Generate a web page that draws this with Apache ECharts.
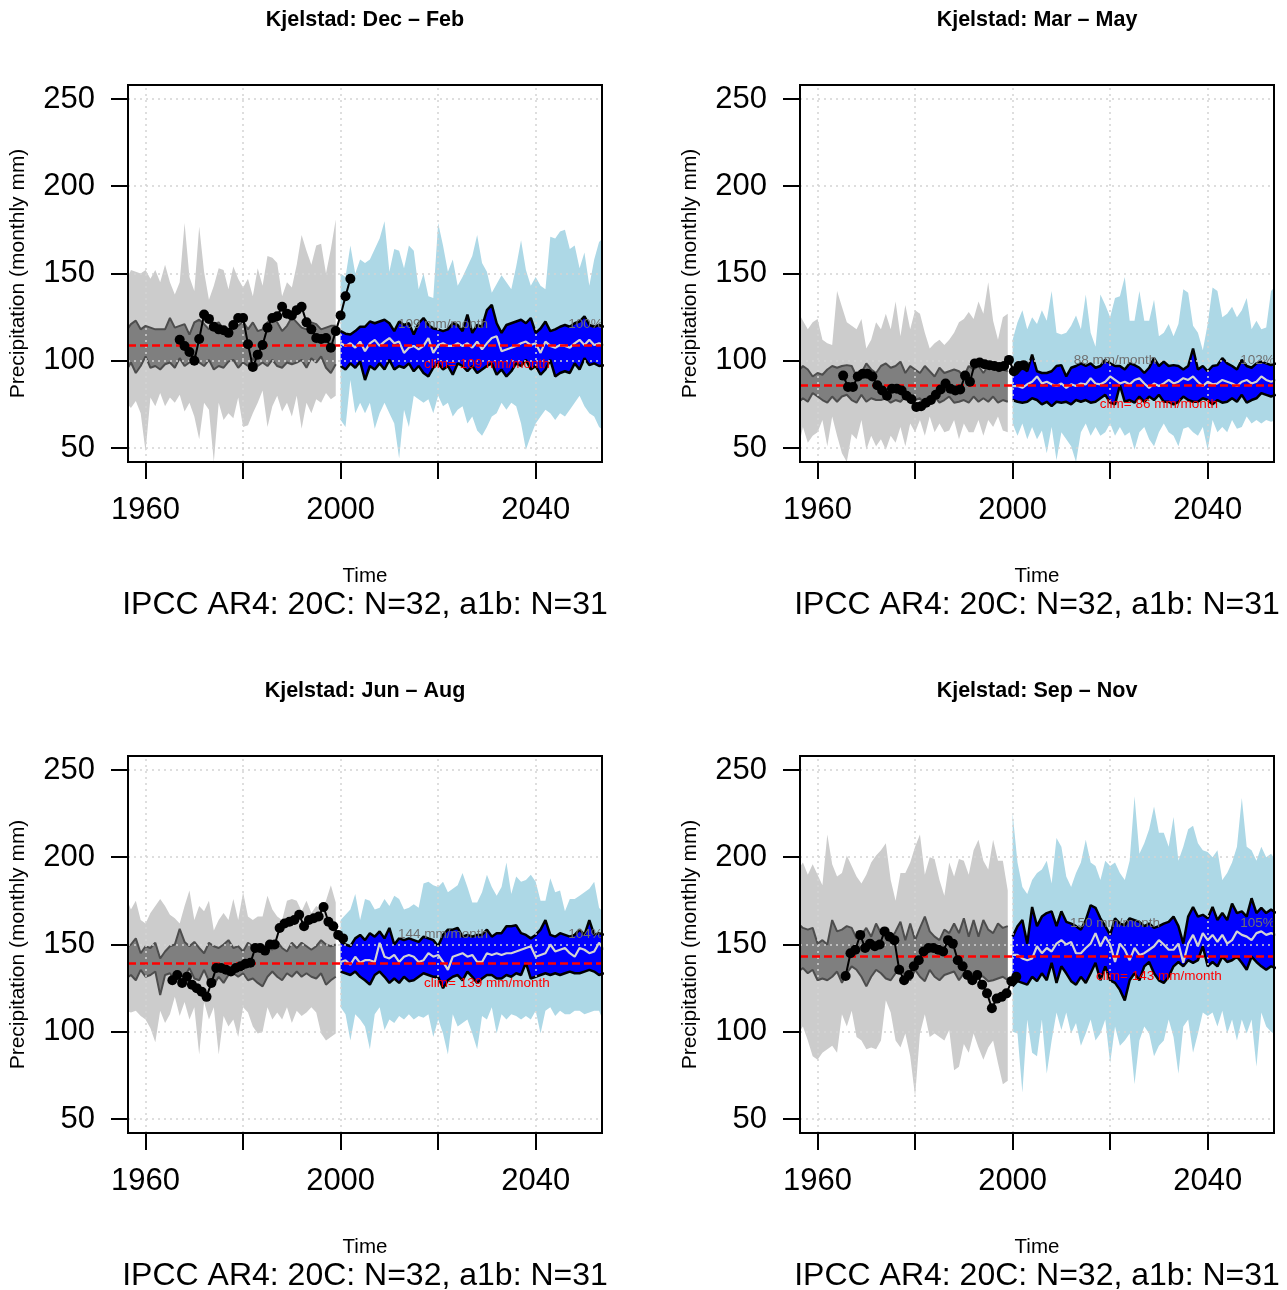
<!DOCTYPE html>
<html><head><meta charset="utf-8">
<script src="https://cdn.jsdelivr.net/npm/echarts/dist/echarts.min.js"></script>
<style>html,body{margin:0;padding:0;background:#fff}#c{width:1287px;height:1290px}</style>
</head><body><div id="c"></div>
<script>
function seq(a, b) { const r = []; for (let y = a; y <= b; y++) r.push(y); return r; }

// ---------- axes ----------
const xTicks = [1960, 1980, 2000, 2020, 2040];
const xLabels = [1960, 2000, 2040];
const yTicks = [50, 100, 150, 200, 250];

// ---------- years ----------
const pastYears = seq(1956, 1999);
const futYears = seq(2000, 2054);

// ---------- Dec - Feb ----------
const djfPastLightHi = [145,152,151,150,152,147,152,145,155,145,138,145,179,148,140,177,151,135,143,153,152,141,154,147,142,147,137,153,143,160,159,156,137,145,142,155,172,163,155,166,167,150,164,181];
const djfPastLightLo = [76,73,77,70,48,79,74,81.5,74,79,76,80.5,71,76,68,55,76,72,42,76,66,70,67,79,62,63,70,76,83,62,74,80,71,76,68,80,61,76,70,78,76,81.5,78,80];
const djfPastDarkHi = [117,121,123,118,120,119,118,118,118,124.5,119,120,121,115,122,123.5,121,118,121,122,118,118,120,120,122.5,118,122,117,118,122,124.5,122,117,120,125,122,119,118,122,121,118,119,120,120];
const djfPastDarkLo = [94,99,93,97,102.5,96,97,95,98,99,96,101.5,97,99,103.5,99,97,100.5,95,97,96,99.5,100.5,96,99,97,101.5,97,99,97,100.5,97,96,99,98,99,100.5,96,101.5,99,102.5,96,93,98];
const djfFutLightHi = [150,148,166,150,158,156,158,164,170,180,151,164,163,153,166,163,141,150,137,136,179,166,151,158,143,148,154,160,172,156,151,139,144,149,145,141,154,169,152,143,148,143,141,171,170,174,175,164,166,153,162,143,158,168,171];
const djfFutLightLo = [66,62,89,70,76,70,76,61,70,76,70,64,44,72,62,80,78,76,78,70,80,74,76,68,72,74,64,68,60,57,62,68,70,76,72,76,74,64,49,57,64,68,72,70,66,70,68,72,76,80,74,70,68,62,60];
const djfFutBlueHi = [117,115.5,115,117,119.5,119.5,122.5,121.5,122.5,123.5,121.5,117,122.5,120.5,121.5,115,121.5,124.5,120.5,118.5,118,117,118,121.5,120.5,117,126.5,116,120.5,119.5,129,132,121.5,116,120.5,121.5,122.5,123.5,121.5,124.5,116,118.5,122.5,117,118,119.5,120.5,119.5,121.5,122.5,125.5,120.5,119.5,120.5,119.5];
const djfFutBlueLo = [97,95,98.5,96,99.5,89,97,95,98.5,95,100.5,95,97,96,98.5,94,97,93,91,96,98.5,95,97,92,98.5,97,94,97,93,95,97,98.5,92,95,91,94,98.5,97,100.5,95,97,92,95,100.5,91,93,94,93,98.5,95,101.5,97.5,98.5,97,97.5];
const djfFutMean = [110,108.5,110,107.5,111,105.5,110,112,108.5,111,113,110,111,104.5,107.5,108.5,106.5,108.5,113,104.5,109,110,108.5,108.5,110,108.5,110,107.5,111,106.5,110,113,114,105.5,106.5,107.5,108.5,110,111,109,110,104.5,111,108.5,107.5,109,108.5,107.5,110,112,109,112,109,110,109];
const djfObsYears = seq(1967, 2002);
const djfObs = [112,108.5,105,100,112.5,126.5,124,119.5,118,117.5,116,120.5,124.5,124.5,109.5,96.5,103.5,109,119,124.5,125.5,131,127,126,129,131,122,118,113,112.5,113,107.5,117,126,137,147];

// ---------- Mar - May ----------
const mamPastLightHi = [128,123,118,122,124,112,110,109,140,131,122,120,118,124,107,112,122,118,127,118,134,114,132,118,129,127,116,107,110,112,109,112,116,122,124,128,124,134,127,145,123,112,125,127];
const mamPastLightLo = [49,62,53,57,59,66,51,68,57,47,42,58,55,66,49,57,51,55,49,57,53,62,51,64,59,66,57,68,59,64,59,60,66,55,64,59,59,66,57,66,62,68,60,59];
const mamPastDarkHi = [94,97,95,91,93,92,95,97,96,97,97.5,97,91,93,98.5,95,93,97,98.5,96,97,99.5,93,97,95,93,97,94,91,96,93,94,95,94,91,97,95,97,93,97,96,94,95,94];
const mamPastDarkLo = [76,78.5,76.5,81.5,79.5,77.5,76,79.5,76.5,79.5,80.5,77.5,76,80.5,76.5,78.5,77.5,77.5,78.5,76,77.5,76.5,79.5,76.5,77.5,78.5,75,76,79.5,76,77.5,79.5,76,76.5,77.5,76,79.5,76.5,78.5,76.5,79.5,76,77.5,76.5];
const mamFutLightHi = [112,122,129,118,125,121,129,123,140,116,115,116,120,126,118,138,116,108,138,132,125,136,137,148,123,123,140,123,123,135,114,116,121,114,121,141,139,120,116,106,121,142,140,125,127,131,125,129,136,118,123,118,119,140,143];
const mamFutLightLo = [64,57,64,55,62,55,60,47,62,43,59,55,51,42,59,64,57,62,57,59,64,57,62,57,59,49,59,62,55,51,59,64,59,57,51,61,62,59,57,62,49,66,59,62,59,66,61,62,68,64,66,64,66,65,66];
const mamFutBlueHi = [92,93,96,94,103.5,94,93,93,94,97,97.5,91,96,97,98.5,97,98.5,96,97,100.5,98.5,97,97,95,98.5,97.5,96,93,96,101.5,97,99.5,97,97.5,97,95,97,107,95,97,94,97,97.5,101.5,98.5,97,95,100.5,97,96,98.5,99.5,98.5,97.5,98.5];
const mamFutBlueLo = [77.5,76.5,76,76.5,78.5,77.5,75,76.5,74,76.5,76,76.5,75,77.5,76.5,77.5,76,76.5,78.5,80.5,76,75,86,76.5,77.5,76,79.5,76.5,79.5,77.5,80.5,76.5,76.5,75,76.5,79.5,77.5,76.5,76.5,78.5,77.5,75,77.5,76,76.5,78.5,76.5,80.5,76,77.5,78.5,81.5,80.5,79.5,80.5];
const mamFutMean = [85.5,85.5,84.5,86.5,88,91,87,88,86.5,85.5,87,84.5,86.5,85.5,87,86.5,90,87,86.5,88,91,89,87,88,86.5,89,90,87,84.5,87,85.5,87,89,87,88,90,89,91,88,85.5,88,86.5,87,89,88,87,85.5,88,89,87,88,91,89,88,89];
const mamObsYears = seq(1965, 2002).map(y => y + 0.25);
const mamObs = [91.5,85,85,91,92.5,92.5,91,86,83,80,84,84,83,80,78,73.5,74,76,77.5,80.5,83.5,87,84,83,83.5,91.5,88,98.5,99,98,97.5,97,96.5,97,100.5,94,97,97.5];

// ---------- Jun - Aug ----------
const jjaPastLightHi = [177,170,175,164,162,168,172,176,172,167,165,162,172,181,164,172,169,175,158,164,168,164,176,164,180,166,164,166,166,178,170,166,164,175,176,175,169,175,168,172,170,175,184,174];
const jjaPastLightLo = [112,111,112,109,107,102,94,112,105,110,120,109,117,107,114,87,117,107,114,87,109,103,107,97,114,111,103,99,100,114,107,111,107,114,105,112,109,111,114,111,99,95,97,99];
const jjaPastDarkHi = [148,150,153.5,145,149,148,151,142,146,149,150,159,151.5,149,151.5,148,145,151,149,148,150,152.5,148,149,146,151,149,148,146,150,147,151.5,148,146,151,148,151,149,147,149,152.5,150,149,150];
const jjaPastDarkLo = [130.5,132.5,129.5,135.5,131.5,132.5,134.5,121,132.5,133.5,129.5,132.5,131.5,136.5,130.5,129.5,135.5,129,127,131.5,128,132.5,133.5,131.5,133.5,129.5,130.5,128,126,131.5,134.5,131.5,129.5,133.5,131.5,134.5,131.5,133.5,131.5,130.5,133.5,127,129.5,131.5];
const jjaFutLightHi = [164,167,170,179,164,176,175,170,171,176,172,178,176,170,171,173,171,185,186,184,183,186,180,182,184,191,183,174,174,180,190,183,178,183,197,179,189,186,187,190,186,175,175,188,180,181,169,176,176,178,180,182,186,171,168];
const jjaFutLightLo = [114,110,95,110,107,103,90,110,114,101,107,105,109,107,110,107,109,108,110,97,107,99,87,110,103,105,107,99,90,109,107,114,99,110,107,110,109,107,109,107,112,99,112,114,109,112,110,110,112,112,110,111,112,112,105];
const jjaFutBlueHi = [151.5,150,149,153.5,155.5,152.5,156.5,154.5,157.5,153.5,159.5,150,153.5,152.5,153.5,152.5,151.5,154.5,153.5,152.5,149,155.5,158.5,158.5,159.5,154.5,155.5,154.5,155.5,155.5,158.5,154.5,156.5,156.5,160.5,160.5,161,156.5,155.5,153.5,155.5,158.5,164,155.5,154.5,156.5,155.5,154.5,155.5,158.5,155.5,164,155.5,156.5,155.5];
const jjaFutBlueLo = [134.5,133.5,132.5,134.5,131.5,129.5,127,132.5,134.5,131.5,128,130.5,128,131.5,129,129.5,131.5,133.5,132.5,131.5,131.5,125,129.5,131.5,132.5,129.5,134.5,131.5,128,130.5,132.5,132.5,130.5,130.5,132.5,131.5,133.5,132.5,139.5,130.5,131.5,132.5,133.5,132.5,133.5,132.5,133.5,134.5,133.5,133.5,134.5,135.5,134.5,132.5,133.5];
const jjaFutMean = [140,141,138.5,143,139.5,141,141,140,151,143,142,144,140,143,144,143,140,141,145,143,144,140,135.5,143,144,145,143,144,140,140,145,144,145,144,145,145,146,147,148,149,143,144,145,150,146,147,148,145,143,148,147,145,146,151,147];
const jjaObsYears = seq(1965, 2000).map(y => y + 0.5);
const jjaObs = [129.5,132.5,128,131.5,127,125,123,120,128,136.5,136.5,135.5,134.5,136.5,137.5,139,139.5,148,148,146.5,150,150,159.5,162,163,164,167,160.5,164,165,166,171.5,163,160.5,155.5,153.5];

// ---------- Sep - Nov ----------
const sonPastLightHi = [193,197,190,196,190,184,213,196,189,191,201,195,189,185,190,197,201,204,208,187,175,191,191,197,206,213,190,200,199,187,178,197,189,199,198,190,204,210,198,193,210,198,198,181];
const sonPastLightLo = [99,103,95,86,84,88,90,92,88,110,103,112,97,95,90,91,90,95,118,111,95,91,99,86,63,99,110,97,99,97,95,101,78,80,93,88,99,91,84,91,95,82,70,72];
const sonPastDarkHi = [162,159.5,158.5,159.5,150.5,152.5,150,164,157.5,158.5,160.5,159.5,153.5,155.5,159.5,154.5,162,156.5,156.5,152.5,157.5,163,152.5,162,152.5,159.5,166,157.5,154.5,152.5,158.5,156.5,162,156.5,165,154.5,164,154.5,164,158.5,156.5,162,159.5,160.5];
const sonPastDarkLo = [134.5,136.5,133.5,135.5,129.5,130.5,129.5,131.5,134.5,128,133.5,137.5,135.5,131.5,126,131.5,135.5,133.5,130.5,129.5,133.5,137.5,131.5,129.5,135.5,131.5,129,135.5,131.5,129.5,132.5,133.5,134.5,129.5,133.5,131.5,130.5,132.5,131.5,129,129.5,130.5,131.5,129.5];
const sonFutLightHi = [225,197,183,179,187,191,193,198,185,211,206,189,183,191,197,210,197,195,187,198,195,197,191,187,198,235,202,208,216,229,214,214,206,223,198,206,216,218,208,204,203,200,204,187,191,197,206,234,206,204,198,206,200,202,198];
const sonFutLightLo = [100,99,65,107,88,86,107,76,95,111,101,111,99,105,92,99,107,95,99,107,82,103,92,95,99,70,95,103,99,86,92,95,107,97,76,103,107,88,99,111,109,111,103,112,99,107,95,107,99,107,80,111,103,100,98];
const sonFutBlueHi = [154.5,160.5,164,150.5,171.5,160.5,166,168,169,160.5,169,163,162,160.5,158.5,164,172.5,171,165,160.5,155.5,165,162,161,165,164,163,160.5,162,159.5,160.5,162,163,166,160.5,150.5,166,171.5,166,167,165,171.5,164,168,164,173.5,168,169,166,176.5,168,171,168,170,168];
const sonFutBlueLo = [126,129,128,127,131.5,129,133.5,129.5,139.5,128,137.5,133.5,129,127,131.5,128,133.5,139.5,129.5,137.5,129.5,128,124,118,129.5,133.5,129.5,137.5,140,133.5,129.5,128,131.5,137.5,140,137.5,141,139.5,141,149,137.5,140,137.5,143,140,141,143,139.5,135.5,143,140,137.5,135.5,137.5,136.5];
const sonFutMean = [144,144,142,141,142,149,145,148,146,150.5,152.5,150,151.5,145,145,148,150.5,156.5,149,154.5,150,140,150.5,147,141,148,144,145,147,149,152.5,150,147,147,150.5,139.5,150.5,155.5,149,156.5,152.5,155.5,151.5,155.5,150.5,152.5,157.5,155.5,154.5,152.5,156.5,157.5,155.5,156.5,155.5];
const sonObsYears = seq(1965, 2000).map(y => y + 0.75);
const sonObs = [132,145,147,155.5,148,150.5,149,150,157.5,154.5,152.5,135.5,129.5,132.5,137.5,141,146,148,148,147,146,152.5,150.5,141,137.5,132.5,129.5,132.5,127,122,113.5,119,120,122,129,131.5];

// ---------- summary numbers ----------
const seasonTitles = ['Kjelstad: Dec \u2013 Feb', 'Kjelstad: Mar \u2013 May', 'Kjelstad: Jun \u2013 Aug', 'Kjelstad: Sep \u2013 Nov'];
const climValues = [109, 86, 139, 143];
const projValues = [109, 88, 144, 150];
const pctLabels = ['100%', '102%', '104%', '105%'];
const subtitle = 'IPCC AR4: 20C: N=32, a1b: N=31';

const panelData = [
  {pLH: djfPastLightHi, pLL: djfPastLightLo, pDH: djfPastDarkHi, pDL: djfPastDarkLo, fLH: djfFutLightHi, fLL: djfFutLightLo, fBH: djfFutBlueHi, fBL: djfFutBlueLo, fM: djfFutMean, oX: djfObsYears, oY: djfObs},
  {pLH: mamPastLightHi, pLL: mamPastLightLo, pDH: mamPastDarkHi, pDL: mamPastDarkLo, fLH: mamFutLightHi, fLL: mamFutLightLo, fBH: mamFutBlueHi, fBL: mamFutBlueLo, fM: mamFutMean, oX: mamObsYears, oY: mamObs},
  {pLH: jjaPastLightHi, pLL: jjaPastLightLo, pDH: jjaPastDarkHi, pDL: jjaPastDarkLo, fLH: jjaFutLightHi, fLL: jjaFutLightLo, fBH: jjaFutBlueHi, fBL: jjaFutBlueLo, fM: jjaFutMean, oX: jjaObsYears, oY: jjaObs},
  {pLH: sonPastLightHi, pLL: sonPastLightLo, pDH: sonPastDarkHi, pDL: sonPastDarkLo, fLH: sonFutLightHi, fLL: sonFutLightLo, fBH: sonFutBlueHi, fBL: sonFutBlueLo, fM: sonFutMean, oX: sonObsYears, oY: sonObs}
];

// ---------- layout ----------
const FONT = '"Liberation Sans", Arial, Helvetica, sans-serif';
const PW = 474, PH = 377;
const pos = [[128, 85], [800, 85], [128, 756], [800, 756]];
const X_MIN = 1956.4, X_MAX = 2053.6, Y_MIN = 42, Y_MAX = 258;

const chart = echarts.init(document.getElementById('c'), null, {renderer: 'canvas'});

const grids = [], xAxes = [], yAxes = [], series = [], graphics = [];

function band(g, xs, lo, hi, color, z) {
  const mid = Math.floor(xs.length / 2);
  return {
    type: 'custom', xAxisIndex: g, yAxisIndex: g, z: z, clip: true, silent: true, animation: false,
    data: [[xs[mid], (lo[mid] + hi[mid]) / 2]],
    renderItem: function (params, api) {
      const pts = [];
      for (let i = 0; i < xs.length; i++) pts.push(api.coord([xs[i], hi[i]]));
      for (let i = xs.length - 1; i >= 0; i--) pts.push(api.coord([xs[i], lo[i]]));
      return {type: 'polygon', shape: {points: pts}, style: {fill: color, stroke: null}};
    }
  };
}
function line(g, xs, ys, color, width, z, extra) {
  return Object.assign({
    type: 'line', xAxisIndex: g, yAxisIndex: g, z: z, silent: true, animation: false,
    data: xs.map((x, i) => [x, ys[i]]), symbol: 'none', showSymbol: false,
    lineStyle: {color: color, width: width}
  }, extra || {});
}

panelData.forEach((d, g) => {
  const [L, T] = pos[g];
  grids.push({left: L, top: T, width: PW, height: PH, containLabel: false});
  xAxes.push({
    gridIndex: g, type: 'value', min: X_MIN, max: X_MAX,
    axisLine: {show: false}, splitLine: {show: false},
    axisTick: {show: true, customValues: xTicks, length: 17, lineStyle: {color: '#000', width: 2}},
    axisLabel: {customValues: xLabels, fontSize: 31, color: '#000', margin: 33, fontFamily: FONT, formatter: v => String(v)}
  });
  yAxes.push({
    gridIndex: g, type: 'value', min: Y_MIN, max: Y_MAX,
    axisLine: {show: false}, splitLine: {show: false},
    axisTick: {show: true, customValues: yTicks, length: 17, lineStyle: {color: '#000', width: 2}},
    axisLabel: {customValues: yTicks, fontSize: 31, color: '#000', margin: 33, fontFamily: FONT, formatter: v => String(v)}
  });

  // bands
  series.push(band(g, pastYears, d.pLL, d.pLH, '#cccccc', 1));
  series.push(band(g, futYears, d.fLL, d.fLH, '#add8e6', 1));
  series.push(band(g, pastYears, d.pDL, d.pDH, '#7f7f7f', 2));
  series.push(band(g, futYears, d.fBL, d.fBH, '#0000ff', 2));
  // band edges (+ dotted grid as markLine)
  series.push(line(g, pastYears, d.pDL, '#4d4d4d', 2, 3, {
    markLine: {
      silent: true, z: 4, animation: false, symbol: ['none', 'none'], label: {show: false},
      lineStyle: {color: '#d3d3d3', type: [2, 4], width: 1.5},
      emphasis: {disabled: true},
      data: xTicks.map(v => ({xAxis: v})).concat(yTicks.map(v => ({yAxis: v})))
    }
  }));
  series.push(line(g, pastYears, d.pDH, '#4d4d4d', 2, 3));
  series.push(line(g, futYears, d.fBL, '#000000', 2.5, 3));
  series.push(line(g, futYears, d.fBH, '#000000', 2.5, 3));
  // ensemble mean + reference lines
  series.push(line(g, futYears, d.fM, '#d3d3d3', 2.2, 5, {
    markLine: {
      silent: true, z: 6, animation: false, symbol: ['none', 'none'], label: {show: false},
      emphasis: {disabled: true},
      data: [
        [{coord: [futYears[0], projValues[g]], lineStyle: {color: '#7f7f7f', type: [10, 8], width: 2}},
         {coord: [futYears[futYears.length - 1], projValues[g]]}],
        {yAxis: climValues[g], lineStyle: {color: '#ff0000', type: [8, 4], width: 2.5}}
      ]
    }
  }));
  // text annotations
  const notes = [
    {x: 2021, y: projValues[g] + 12, text: projValues[g] + ' mm/month', color: '#6f6f6f'},
    {x: 2050.2, y: projValues[g] + 12, text: pctLabels[g], color: '#6f6f6f'},
    {x: 2030, y: climValues[g] - 11, text: 'clim= ' + climValues[g] + ' mm/month', color: '#ff0000'}
  ];
  series.push({
    type: 'custom', xAxisIndex: g, yAxisIndex: g, z: 7, silent: true, animation: false, clip: false,
    data: notes.map(n => [n.x, n.y]),
    renderItem: function (params, api) {
      const n = notes[params.dataIndex];
      const p = api.coord([n.x, n.y]);
      return {type: 'text', x: p[0], y: p[1], style: {text: n.text, fill: n.color, font: '13.5px ' + FONT,
        textAlign: 'center', textVerticalAlign: 'middle', align: 'center', verticalAlign: 'middle'}};
    }
  });
  // observations
  series.push({
    type: 'line', xAxisIndex: g, yAxisIndex: g, z: 8, silent: true, animation: false,
    data: d.oX.map((x, i) => [x, d.oY[i]]),
    symbol: 'circle', symbolSize: 10, showSymbol: true, showAllSymbol: true,
    itemStyle: {color: '#000'}, lineStyle: {color: '#000', width: 2}
  });

  // box + texts
  const cx = L + PW / 2;
  graphics.push({type: 'rect', silent: true, z: 100, shape: {x: L, y: T, width: PW, height: PH},
    style: {fill: 'none', stroke: '#000', lineWidth: 2}});
  graphics.push({type: 'text', silent: true, z: 100, x: cx, y: T - 65,
    style: {text: seasonTitles[g], fill: '#000', font: 'bold 21.5px ' + FONT, textAlign: 'center', textVerticalAlign: 'middle', align: 'center', verticalAlign: 'middle'}});
  graphics.push({type: 'text', silent: true, z: 100, x: cx, y: T + PH + 114,
    style: {text: 'Time', fill: '#000', font: '20.5px ' + FONT, textAlign: 'center', textVerticalAlign: 'middle', align: 'center', verticalAlign: 'middle'}});
  graphics.push({type: 'text', silent: true, z: 100, x: cx, y: T + PH + 143,
    style: {text: subtitle, fill: '#000', font: '32px ' + FONT, textAlign: 'center', textVerticalAlign: 'middle', align: 'center', verticalAlign: 'middle'}});
  graphics.push({type: 'text', silent: true, z: 100, x: L - 110, y: T + PH / 2, rotation: Math.PI / 2,
    style: {text: 'Precipitation (monthly mm)', fill: '#000', font: '21px ' + FONT, textAlign: 'center', textVerticalAlign: 'middle', align: 'center', verticalAlign: 'middle'}});
});

chart.setOption({
  animation: false,
  backgroundColor: '#ffffff',
  textStyle: {fontFamily: FONT},
  grid: grids, xAxis: xAxes, yAxis: yAxes, series: series, graphic: graphics
});
</script>
</body></html>
